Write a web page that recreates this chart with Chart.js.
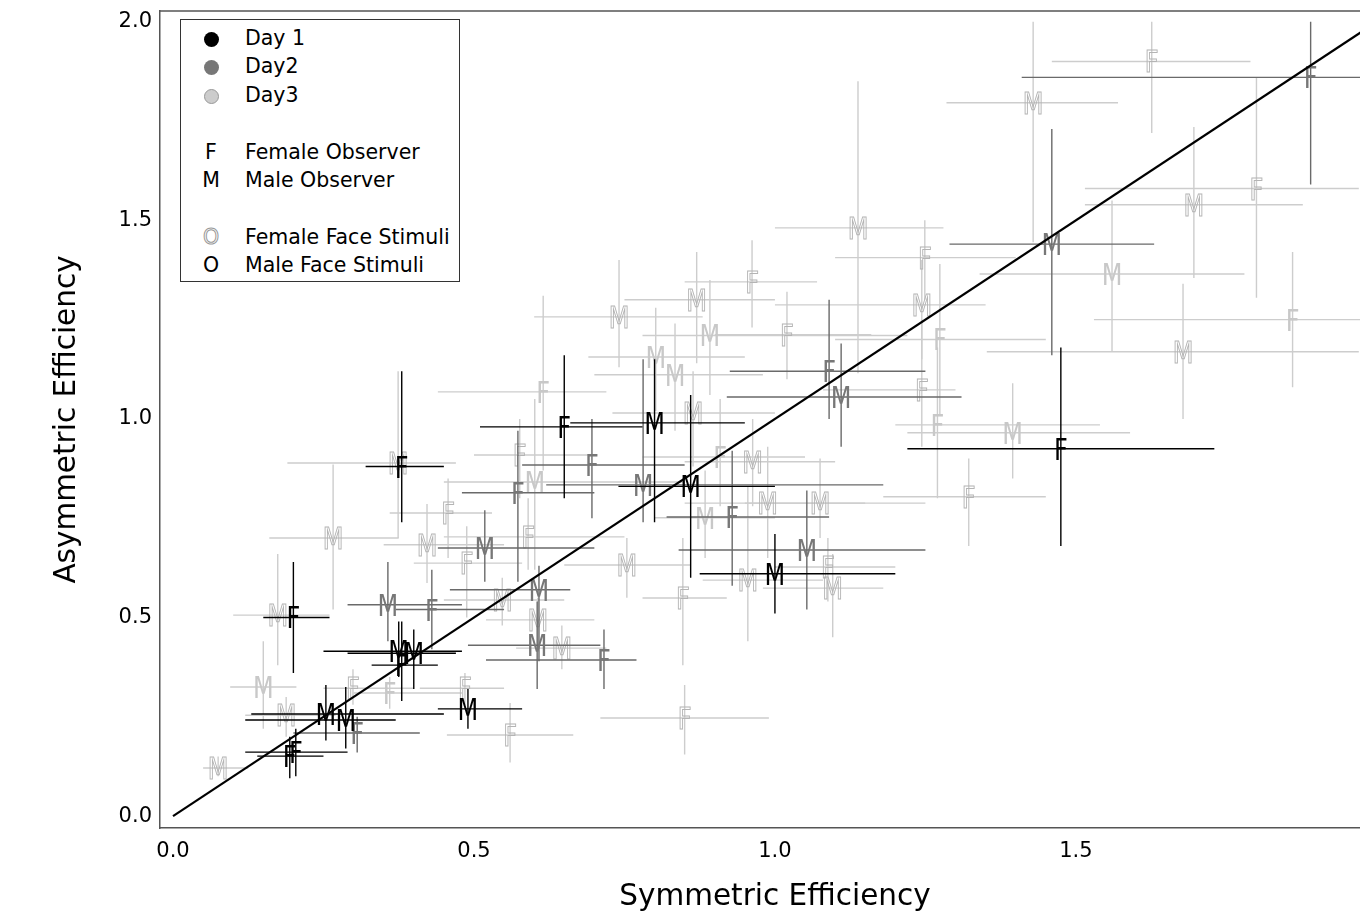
<!DOCTYPE html>
<html>
<head>
<meta charset="utf-8">
<title>Symmetric vs Asymmetric Efficiency</title>
<script src="https://cdn.jsdelivr.net/npm/chart.js@4.4.1/dist/chart.umd.min.js"></script>
<style>
  html, body { margin: 0; padding: 0; background: #fff; }
  #wrap { position: relative; width: 1360px; height: 914px; }
  #legend {
    position: absolute; left: 180px; top: 19px; width: 278px; height: 261px;
    border: 1px solid #333; background: #fff;
    font-family: "DejaVu Sans", sans-serif; font-size: 20.5px; color: #000;
  }
  .row { position: absolute; left: 0; width: 100%; height: 28px; line-height: 28px; }
  .sym { position: absolute; left: 18px; width: 24px; text-align: center; }
  .txt { position: absolute; left: 64px; white-space: nowrap; }
  .dot { display: inline-block; width: 15px; height: 15px; border-radius: 50%; vertical-align: middle; box-sizing: border-box; }
  .hollow { color: transparent; -webkit-text-stroke: 1px #999; }
</style>
</head>
<body>
<div id="wrap">
  <canvas id="effChart" width="1360" height="914"></canvas>
  <div id="legend">
    <div class="row" style="top:4px"><span class="sym"><span class="dot" style="background:#000"></span></span><span class="txt">Day 1</span></div>
    <div class="row" style="top:32px"><span class="sym"><span class="dot" style="background:#777"></span></span><span class="txt">Day2</span></div>
    <div class="row" style="top:61px"><span class="sym"><span class="dot" style="background:#ccc;border:1px solid #999"></span></span><span class="txt">Day3</span></div>
    <div class="row" style="top:118px"><span class="sym">F</span><span class="txt">Female Observer</span></div>
    <div class="row" style="top:146px"><span class="sym">M</span><span class="txt">Male Observer</span></div>
    <div class="row" style="top:203px"><span class="sym hollow">O</span><span class="txt">Female Face Stimuli</span></div>
    <div class="row" style="top:231px"><span class="sym">O</span><span class="txt">Male Face Stimuli</span></div>
  </div>
</div>
<script>
(function () {
  // observer letter, face stimulus (F = hollow letter, M = filled), and estimates with error ranges
  const day1Observer = ["F", "F", "F", "M", "M", "M", "F", "M", "M", "M", "F", "M", "M", "F", "F"];
  const day1Face = ["M", "M", "M", "M", "M", "M", "M", "M", "M", "M", "M", "M", "M", "M", "M"];
  const day1Sym = [0.38, 0.20, 0.65, 0.80, 0.86, 1.00, 1.475, 0.49, 0.375, 0.40, 0.38, 0.254, 0.287, 0.194, 0.204];
  const day1Asym = [0.88, 0.50, 0.98, 0.99, 0.83, 0.61, 0.925, 0.27, 0.415, 0.41, 0.38, 0.257, 0.242, 0.151, 0.161];
  const day1SymLo = [0.32, 0.15, 0.51, 0.66, 0.74, 0.875, 1.22, 0.44, 0.25, 0.29, 0.33, 0.13, 0.12, 0.14, 0.12];
  const day1SymHi = [0.45, 0.26, 0.78, 0.95, 1.00, 1.20, 1.73, 0.58, 0.48, 0.47, 0.44, 0.45, 0.37, 0.25, 0.29];
  const day1AsymLo = [0.74, 0.36, 0.80, 0.74, 0.60, 0.51, 0.68, 0.22, 0.35, 0.32, 0.29, 0.19, 0.17, 0.095, 0.10];
  const day1AsymHi = [1.12, 0.64, 1.16, 1.15, 1.06, 0.71, 1.18, 0.32, 0.49, 0.47, 0.49, 0.33, 0.325, 0.20, 0.22];

  const day2Observer = ["F", "M", "F", "M", "M", "F", "M", "M", "M", "M", "F", "F", "F", "M", "F", "F"];
  const day2Face = ["M", "M", "M", "M", "M", "M", "M", "M", "M", "M", "M", "M", "M", "M", "M", "M"];
  const day2Sym = [1.89, 1.46, 1.09, 1.11, 1.053, 0.716, 0.605, 0.608, 0.518, 0.357, 0.43, 0.696, 0.573, 0.781, 0.306, 0.929];
  const day2Asym = [1.86, 1.44, 1.12, 1.055, 0.67, 0.393, 0.43, 0.57, 0.675, 0.532, 0.52, 0.884, 0.814, 0.834, 0.209, 0.753];
  const day2SymLo = [1.41, 1.29, 0.925, 0.92, 0.84, 0.52, 0.49, 0.46, 0.44, 0.29, 0.37, 0.58, 0.48, 0.62, 0.20, 0.82];
  const day2SymHi = [2.05, 1.63, 1.25, 1.31, 1.25, 0.77, 0.71, 0.66, 0.70, 0.48, 0.55, 0.85, 0.70, 1.18, 0.41, 1.09];
  const day2AsymLo = [1.59, 1.16, 1.00, 0.93, 0.52, 0.32, 0.32, 0.39, 0.59, 0.44, 0.42, 0.75, 0.59, 0.74, 0.16, 0.58];
  const day2AsymHi = [2.00, 1.73, 1.30, 1.19, 0.82, 0.47, 0.54, 0.63, 0.77, 0.64, 0.62, 1.00, 0.97, 1.15, 0.25, 0.92];

  const day3Observer = ["F", "M", "F", "F", "M", "F", "M", "M", "M", "M", "M", "F", "M", "F",
    "M", "F", "M", "F", "M", "M", "F", "F", "M", "F", "F", "M", "M", "M", "M", "M", "M", "F", "M", "M",
    "F", "M", "M", "M", "F", "F", "F", "F", "F", "M", "M", "M", "M", "M", "M", "F", "F", "F", "F", "M"];
  const day3Face = ["M", "M", "M", "M", "M", "M", "M", "M", "M", "M", "M", "M", "M", "M",
    "F", "F", "F", "F", "F", "F", "F", "F", "F", "F", "F", "F", "F", "F", "F", "F", "F", "F", "F", "F",
    "F", "F", "F", "F", "F", "F", "F", "F", "F", "F", "F", "F", "F", "F", "F", "F", "F", "F", "F", "F"];
  const day3Sym = [1.86, 1.56, 1.274, 1.27, 1.395, 0.615, 0.802, 0.834, 0.892, 0.15, 0.601, 0.36, 0.884, 0.909,
    1.429, 1.626, 1.696, 1.80, 1.678, 1.138, 0.962, 1.249, 1.244, 1.244, 1.02, 0.87, 0.741, 0.988, 1.075, 0.864,
    0.963, 1.322, 0.955, 1.096, 1.088, 0.754, 0.646, 0.606, 0.847, 0.85, 0.56, 0.485, 0.299, 0.188, 0.075, 0.174,
    0.266, 0.374, 0.422, 0.457, 0.576, 0.59, 0.488, 0.547];
  const day3Asym = [1.25, 1.365, 1.20, 0.985, 0.965, 1.068, 1.156, 1.111, 1.21, 0.325, 0.841, 0.31, 0.751, 0.904,
    1.796, 1.90, 1.539, 1.58, 1.169, 1.481, 1.345, 1.406, 1.287, 1.073, 1.212, 1.30, 1.257, 0.788, 0.788, 1.015,
    0.892, 0.804, 0.594, 0.574, 0.627, 0.632, 0.423, 0.494, 0.549, 0.247, 0.204, 0.322, 0.322, 0.254, 0.121, 0.506,
    0.70, 0.889, 0.683, 0.763, 0.909, 0.703, 0.637, 0.544];
  const day3SymLo = [1.53, 1.34, 1.10, 1.20, 1.22, 0.44, 0.69, 0.70, 0.78, 0.095, 0.45, 0.30, 0.80, 0.78,
    1.285, 1.46, 1.515, 1.515, 1.352, 1.00, 0.85, 1.10, 1.00, 1.08, 0.90, 0.75, 0.60, 0.85, 0.95, 0.73,
    0.85, 1.18, 0.88, 0.98, 1.00, 0.65, 0.57, 0.52, 0.78, 0.71, 0.455, 0.41, 0.25, 0.12, 0.05, 0.10,
    0.16, 0.19, 0.35, 0.36, 0.50, 0.45, 0.40, 0.45];
  const day3SymHi = [2.00, 1.78, 1.45, 1.54, 1.59, 0.72, 0.95, 0.98, 1.22, 0.205, 0.85, 0.48, 1.00, 1.05,
    1.57, 1.79, 1.877, 1.97, 1.97, 1.28, 1.07, 1.40, 1.35, 1.30, 1.16, 1.00, 0.88, 1.15, 1.25, 1.00,
    1.10, 1.45, 1.08, 1.18, 1.20, 0.86, 0.72, 0.70, 0.92, 0.99, 0.665, 0.55, 0.40, 0.27, 0.125, 0.26,
    0.375, 0.47, 0.55, 0.53, 0.70, 0.75, 0.58, 0.65];
  const day3AsymLo = [1.08, 1.17, 1.01, 0.80, 0.85, 0.87, 1.02, 0.97, 1.06, 0.22, 0.62, 0.27, 0.65, 0.78,
    1.445, 1.72, 1.355, 1.305, 1.00, 1.115, 1.23, 1.30, 1.15, 0.93, 1.10, 1.14, 1.13, 0.65, 0.70, 0.88,
    0.78, 0.68, 0.44, 0.45, 0.54, 0.55, 0.37, 0.42, 0.38, 0.155, 0.135, 0.28, 0.28, 0.20, 0.10, 0.38,
    0.52, 0.70, 0.587, 0.65, 0.80, 0.62, 0.50, 0.48];
  const day3AsymHi = [1.42, 1.55, 1.39, 1.18, 1.09, 1.31, 1.28, 1.24, 1.35, 0.44, 1.05, 0.35, 0.87, 1.05,
    2.00, 2.00, 1.735, 1.86, 1.34, 1.85, 1.45, 1.50, 1.40, 1.25, 1.32, 1.42, 1.40, 0.93, 0.90, 1.12,
    1.00, 0.90, 0.83, 0.66, 0.70, 0.70, 0.48, 0.55, 0.70, 0.33, 0.285, 0.36, 0.37, 0.30, 0.15, 0.66,
    0.885, 1.12, 0.786, 0.85, 1.00, 0.80, 0.73, 0.60];

  const tickValues = [0, 0.5, 1.0, 1.5, 2.0];
  const identityLine = [0, 2];

  const days = [
    { obs: day1Observer, face: day1Face, sym: day1Sym, asym: day1Asym, symLo: day1SymLo, symHi: day1SymHi, asymLo: day1AsymLo, asymHi: day1AsymHi },
    { obs: day2Observer, face: day2Face, sym: day2Sym, asym: day2Asym, symLo: day2SymLo, symHi: day2SymHi, asymLo: day2AsymLo, asymHi: day2AsymHi },
    { obs: day3Observer, face: day3Face, sym: day3Sym, asym: day3Asym, symLo: day3SymLo, symHi: day3SymHi, asymLo: day3AsymLo, asymHi: day3AsymHi }
  ];

  const letterColors = ["#000000", "#777777", "#c8c8c8"];
  const outlineColors = ["#000000", "#777777", "#b4b4b4"];
  const barColors = ["#000000", "#6a6a6a", "#cdcdcd"];
  const FONT = '"DejaVu Sans", sans-serif';

  const letterPlugin = {
    id: "letterMarkers",
    beforeDatasetsDraw(chart) {
      const { ctx, chartArea, scales } = chart;
      const xs = scales.x;
      const ys = scales.y;

      ctx.save();
      ctx.beginPath();
      ctx.rect(chartArea.left, chartArea.top, chartArea.right - chartArea.left, chartArea.bottom - chartArea.top);
      ctx.clip();

      // day 3 at the back, day 1 in front
      for (let d = days.length - 1; d >= 0; d--) {
        const day = days[d];
        const meta = chart.getDatasetMeta(d + 1);

        ctx.strokeStyle = barColors[d];
        ctx.lineWidth = 1.4;
        meta.data.forEach((pt, i) => {
          ctx.beginPath();
          ctx.moveTo(xs.getPixelForValue(day.symLo[i]), pt.y);
          ctx.lineTo(xs.getPixelForValue(day.symHi[i]), pt.y);
          ctx.moveTo(pt.x, ys.getPixelForValue(day.asymLo[i]));
          ctx.lineTo(pt.x, ys.getPixelForValue(day.asymHi[i]));
          ctx.stroke();
        });

        ctx.font = "30px " + FONT;
        ctx.textAlign = "center";
        ctx.textBaseline = "alphabetic";
        meta.data.forEach((pt, i) => {
          ctx.save();
          ctx.translate(pt.x, pt.y);
          ctx.scale(0.8, 1);
          if (day.face[i] === "F") {
            ctx.strokeStyle = outlineColors[d];
            ctx.lineWidth = 1.1;
            ctx.strokeText(day.obs[i], 0, 11);
          } else {
            ctx.fillStyle = letterColors[d];
            ctx.fillText(day.obs[i], 0, 11);
          }
          ctx.restore();
        });
      }
      ctx.restore();
    },
    afterDraw(chart) {
      const { ctx, chartArea } = chart;
      ctx.save();
      // thin top frame line
      ctx.strokeStyle = "#555";
      ctx.lineWidth = 1.5;
      ctx.beginPath();
      ctx.moveTo(chartArea.left, chartArea.top);
      ctx.lineTo(chartArea.right, chartArea.top);
      ctx.stroke();
      // x axis title, centred a little right of the plot centre as in the source
      ctx.fillStyle = "#000";
      ctx.font = "29.5px " + FONT;
      ctx.textAlign = "center";
      ctx.textBaseline = "middle";
      ctx.fillText("Symmetric Efficiency", (chartArea.left + chartArea.right) / 2 + 15, 897);
      ctx.restore();
    }
  };

  const datasets = [
    {
      type: "line",
      label: "identity",
      data: identityLine.map(v => ({ x: v, y: v })),
      borderColor: "#000",
      borderWidth: 2.2,
      pointRadius: 0,
      fill: false
    }
  ];
  days.forEach((day, d) => {
    datasets.push({
      type: "scatter",
      label: "Day " + (d + 1),
      data: day.sym.map((v, i) => ({ x: v, y: day.asym[i] })),
      pointRadius: 0,
      pointHoverRadius: 0
    });
  });

  new Chart(document.getElementById("effChart"), {
    type: "scatter",
    data: { datasets },
    options: {
      responsive: false,
      animation: false,
      events: [],
      layout: { padding: { top: 11, right: 0, left: 0, bottom: 0 } },
      plugins: {
        legend: { display: false },
        tooltip: { enabled: false }
      },
      scales: {
        x: {
          type: "linear",
          min: -0.0216,
          max: 1.972,
          afterFit(scale) {
            scale.height = 86;
            scale.paddingLeft = 0;
            scale.paddingRight = 0;
          },
          afterBuildTicks(scale) {
            scale.ticks = tickValues.filter(v => v <= scale.max).map(v => ({ value: v }));
          },
          grid: { display: false, drawTicks: false },
          border: { display: true, color: "#555", width: 1.5 },
          ticks: {
            color: "#000",
            font: { family: FONT, size: 21 },
            padding: 11,
            maxRotation: 0,
            callback: v => Number(v).toFixed(1)
          },
          title: { display: false }
        },
        y: {
          type: "linear",
          min: -0.03,
          max: 2.027,
          afterFit(scale) {
            scale.width = 160;
            scale.paddingTop = 0;
            scale.paddingBottom = 0;
          },
          afterBuildTicks(scale) {
            scale.ticks = tickValues.filter(v => v <= scale.max).map(v => ({ value: v }));
          },
          grid: { display: false, drawTicks: false },
          border: { display: true, color: "#555", width: 1.5 },
          ticks: {
            color: "#000",
            font: { family: FONT, size: 21 },
            padding: 8,
            callback: v => Number(v).toFixed(1)
          },
          title: {
            display: true,
            text: "Asymmetric Efficiency",
            color: "#000",
            font: { family: FONT, size: 29.5 },
            padding: { top: 50, bottom: 0 }
          }
        }
      }
    },
    plugins: [letterPlugin]
  });
})();
</script>
</body>
</html>
